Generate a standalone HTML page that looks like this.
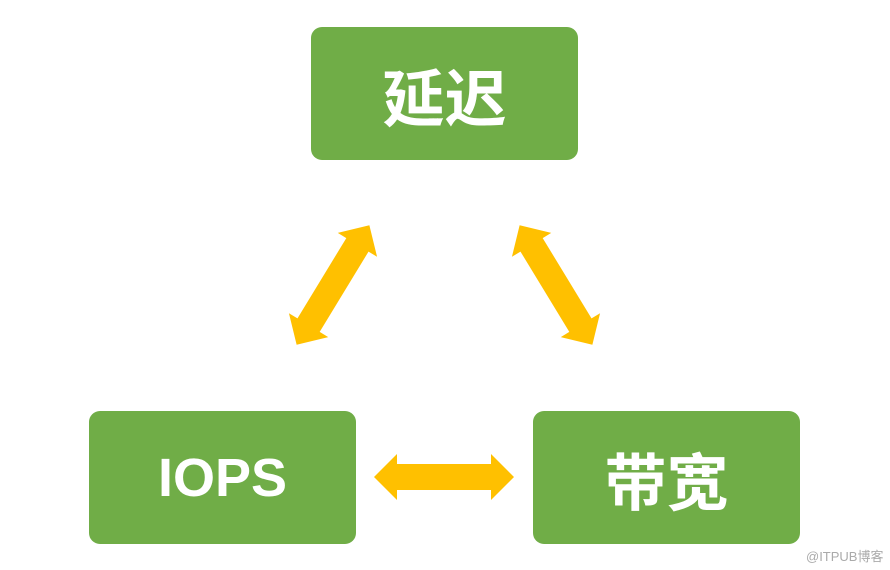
<!DOCTYPE html>
<html><head><meta charset="utf-8"><style>
body{margin:0;width:890px;height:570px;background:#fff;overflow:hidden;position:relative;font-family:"Liberation Sans","Noto Sans CJK SC",sans-serif}
.b{position:absolute;width:267px;height:133px;background:#70AD47;border-radius:11px;color:#fff;font-weight:bold;font-size:54px;display:flex;align-items:center;justify-content:center}
.c{font-size:62px}
.w{position:absolute;left:806px;top:546px;font-size:13px;color:#aaa}
</style></head><body>
<div class="b c" style="left:311px;top:27px">延迟</div>
<div class="b" style="left:89px;top:411px">IOPS</div>
<div class="b c" style="left:533px;top:411px">带宽</div>
<svg width="890" height="570" style="position:absolute;left:0;top:0">
<defs><polygon id="a" fill="#FFC000" points="-70,0 -47,-23 -47,-13 47,-13 47,-23 70,0 47,23 47,13 -47,13 -47,23"/></defs>
<use href="#a" transform="translate(444,477)"/>
<use href="#a" transform="translate(333,285) rotate(-58.7)"/>
<use href="#a" transform="translate(556,285) rotate(58.7)"/>
</svg>
<div class="w">@ITPUB博客</div>
</body></html>
